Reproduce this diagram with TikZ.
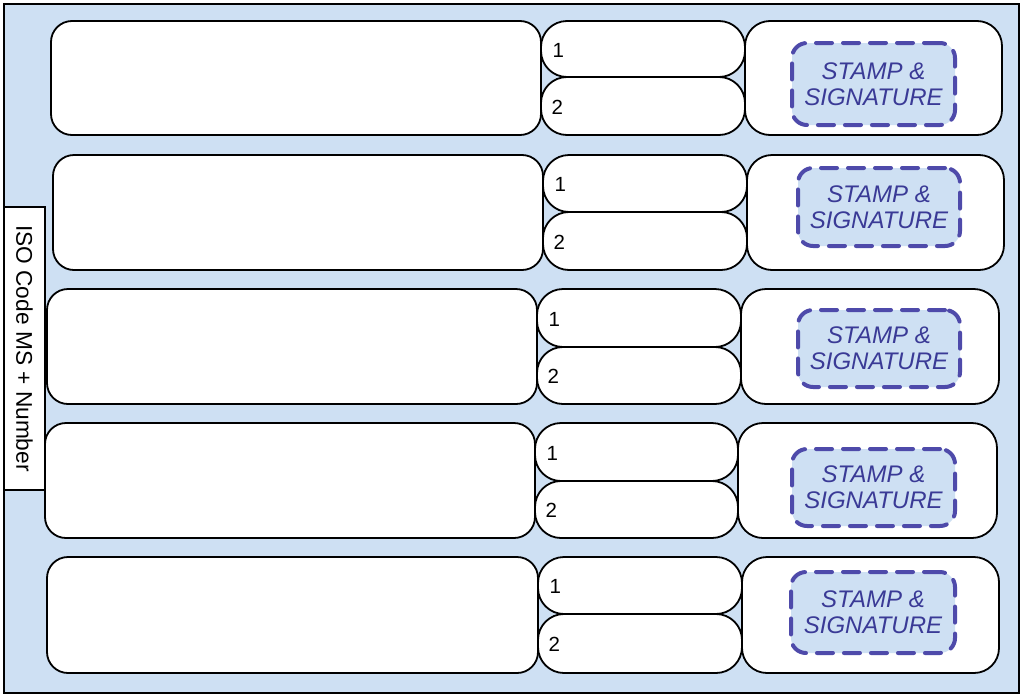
\documentclass[tikz,border=0pt]{standalone}
\usepackage{fontspec}
\setmainfont{Liberation Sans}
\definecolor{bgblue}{RGB}{206,224,243}
\definecolor{dashblue}{RGB}{78,74,170}
\definecolor{txtblue}{RGB}{58,58,150}
\tikzset{
  frame/.style={draw=black,line width=1.8pt,fill=bgblue},
  bigbox/.style={draw=black,line width=1.8pt,fill=white,rounded corners=21pt},
  slotbox/.style={draw=black,line width=1.8pt,fill=white,rounded corners=26pt},
  rightbox/.style={draw=black,line width=1.8pt,fill=white,rounded corners=25pt},
  stampbox/.style={draw=dashblue,line width=4pt,fill=bgblue,rounded corners=15pt,
    dash pattern=on 16pt off 11pt,line cap=round,
    text=txtblue,font=\fontsize{24}{26}\selectfont\itshape,align=center,inner sep=0pt},
  isobox/.style={draw=black,line width=1.6pt,fill=white,inner sep=0pt},
  numlabel/.style={font=\fontsize{20.5}{22}\selectfont}
}
\begin{document}
\begin{tikzpicture}[x=1pt,y=-1pt]
\useasboundingbox (0,0) rectangle (1024,699);
\path[frame] (4,4) rectangle (1019,693);
\foreach \r/\bx/\sx/\rx/\rr/\yt/\ym/\yb/\dxa/\dxb/\dya/\dyb in {
  1/51/541/745/1002/21/77/135/792/955/43/125,
  2/53/543/747/1004/155/212/270/798/960/168/246,
  3/47/537/741/999/289/347/404/798/960/310/387,
  4/45/535/738/997/423/481/538/792/955/449/526,
  5/47/538/742/999/557/614/673/791/955/572/653}{
  \node[bigbox,minimum width={\sx-\bx},minimum height={\yb-\yt}] (big\r) at ({(\bx+\sx)/2},{(\yt+\yb)/2}) {};
  \node[rightbox,minimum width={\rr-\rx},minimum height={\yb-\yt}] (right\r) at ({(\rx+\rr)/2},{(\yt+\yb)/2}) {};
  \node[slotbox,minimum width={\rx-\sx},minimum height={\ym-\yt}] (one\r) at ({(\sx+\rx)/2},{(\yt+\ym)/2}) {};
  \node[slotbox,minimum width={\rx-\sx},minimum height={\yb-\ym}] (two\r) at ({(\sx+\rx)/2},{(\ym+\yb)/2}) {};
  \node[numlabel,anchor=west] (n1\r) at ([xshift=9pt,yshift=-1pt]one\r.west) {1};
  \node[numlabel,anchor=west] (n2\r) at ([xshift=8pt,yshift=-1pt]two\r.west) {2};
  \node[stampbox,minimum width={\dxb-\dxa},minimum height={\dyb-\dya}] (stamp\r) at ({(\dxa+\dxb)/2},{(\dya+\dyb)/2}) {STAMP \&\\SIGNATURE};
}
\node[isobox,minimum width=283pt,minimum height=41pt,rotate=-90,font=\fontsize{22.7}{24}\selectfont] (iso) at (24.5,348.5) {ISO Code MS + Number};
\end{tikzpicture}
\end{document}
